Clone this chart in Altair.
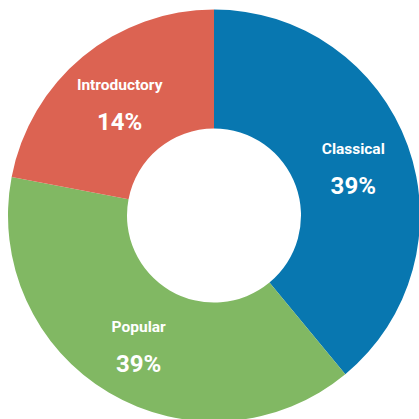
import altair as alt
import pandas as pd

categories = ["Classical", "Popular", "Introductory"]
slice_share = [39, 39, 22]          # angular share
label_text = ["39%", "39%", "14%"]  # printed labels
order_idx = [0, 1, 2]
colors = ["#0877b0", "#81b863", "#dc6352"]

df = pd.DataFrame({
    "category": categories,
    "share": slice_share,
    "label": label_text,
    "idx": order_idx,
})

base = alt.Chart(df).encode(
    theta=alt.Theta("share:Q", stack=True),
    order=alt.Order("idx:Q"),
)

arcs = base.mark_arc(outerRadius=206, innerRadius=87).encode(
    color=alt.Color("category:N",
                    scale=alt.Scale(domain=categories, range=colors),
                    legend=None),
)

names = base.mark_text(radius=148, dy=-16, font="Roboto",
                       fontSize=15.5, fontWeight="bold", color="white").encode(
    text="category:N"
)
pcts = base.mark_text(radius=148, dy=22, font="Roboto",
                      fontSize=24, fontWeight="bold", color="white").encode(
    text="label:N"
)

chart = alt.layer(arcs, names, pcts).properties(
    width=410, height=407,
    padding={"left": 9, "top": 12, "right": 0, "bottom": 0},
    autosize=alt.AutoSizeParams(type="none"),
).configure_view(stroke=None)

chart.save("out.html", embed_options={"renderer": "svg", "actions": False})
